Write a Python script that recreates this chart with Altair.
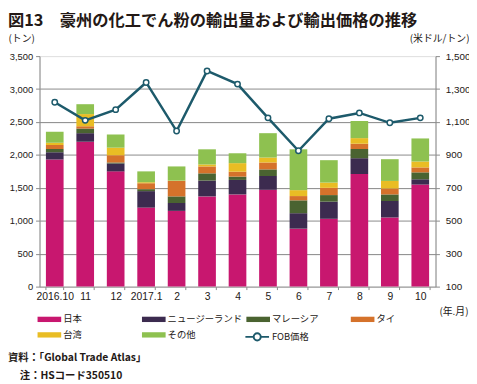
import altair as alt
import pandas as pd

# ---- data ----
months = ["2016.10", "11", "12", "2017.1", "2", "3", "4", "5", "6", "7", "8", "9", "10"]
series_names = ["日本", "ニュージーランド", "マレーシア", "タイ", "台湾", "その他"]
series_colors = ["#c8176f", "#3c2b4f", "#4a6331", "#d5722b", "#e9bd24", "#8ec150"]
japan = [1930, 2200, 1750, 1200, 1150, 1370, 1400, 1470, 880, 1030, 1710, 1050, 1550]
nz = [110, 130, 120, 250, 120, 240, 220, 210, 235, 260, 240, 250, 80]
malaysia = [50, 70, 15, 30, 100, 110, 50, 100, 195, 100, 140, 100, 105]
thai = [60, 35, 110, 90, 235, 105, 75, 105, 65, 110, 80, 90, 75]
taiwan = [35, 185, 115, 15, 5, 30, 130, 75, 90, 80, 85, 115, 90]
other = [165, 150, 200, 165, 215, 230, 150, 370, 620, 340, 260, 330, 350]
fob = [1220, 1110, 1175, 1340, 1045, 1410, 1330, 1125, 925, 1120, 1155, 1095, 1125]
left_ticks = [0, 500, 1000, 1500, 2000, 2500, 3000, 3500]
right_ticks = [100, 300, 500, 700, 900, 1100, 1300, 1500]

title_text = "図13　豪州の化工でん粉の輸出量および輸出価格の推移"
note1 = "資料：「Global Trade Atlas」"
note2 = "注：HSコード350510"

rows = []
for i, (name, vals) in enumerate(zip(series_names, [japan, nz, malaysia, thai, taiwan, other])):
    for m, v in zip(months, vals):
        rows.append({"month": m, "series": name, "value": v, "ord": i})
bars_df = pd.DataFrame(rows)
line_df = pd.DataFrame({"month": months, "fob": fob, "s": ["FOB価格"] * len(months)})

FONT = "Noto Sans CJK JP"
NUMFONT = "Liberation Sans"
INK = "#231815"
AXC = "#8a8a8a"
LINEC = "#1d5a6b"

x_enc = alt.X(
    "month:N", sort=months,
    scale=alt.Scale(paddingInner=0.42, paddingOuter=0.21),
    axis=alt.Axis(
        title="(年.月)", titleX=435, titleY=25, titleAlign="right", titleBaseline="middle",
        titleAngle=0, titleFont=FONT, titleFontSize=10, titleFontWeight="normal", titleColor=INK,
        labelAngle=0, labelFont=NUMFONT, labelFontSize=10.5, labelColor=INK, labelPadding=2,
        tickSize=3, tickBand="extent", tickColor=AXC, domainColor=AXC, grid=False,
    ),
)

bars = alt.Chart(bars_df).mark_bar().encode(
    x=x_enc,
    y=alt.Y(
        "value:Q", stack="zero",
        scale=alt.Scale(domain=[0, 3500], nice=False),
        axis=alt.Axis(
            values=left_ticks, format=",.0f",
            title="(トン)", titleAngle=0, titleX=-32, titleY=-18, titleAlign="left",
            titleBaseline="middle", titleFont=FONT, titleFontSize=10, titleFontWeight="normal",
            titleColor=INK,
            labelFont=NUMFONT, labelFontSize=9.5, labelColor=INK, labelPadding=3,
            tickSize=4, tickColor=AXC, domainColor=AXC,
            grid=True,
            gridColor=alt.condition("datum.value % 1000 === 0", alt.value("#bdbdbd"), alt.value("#858585")),
            gridWidth=alt.condition("datum.value % 1000 === 0", alt.value(1.6), alt.value(1)),
            gridOpacity=alt.condition("datum.value === 3500 || datum.value === 0", alt.value(0), alt.value(1)),
        ),
    ),
    color=alt.Color(
        "series:N",
        scale=alt.Scale(domain=series_names, range=series_colors),
        legend=alt.Legend(
            title=None, orient="none", legendX=-2, legendY=261, direction="horizontal",
            columns=4, gridAlign="all", columnPadding=3, rowPadding=5, padding=0,
            symbolType="M-1,-0.45H3V0.45H-1Z", symbolSize=144, symbolStrokeWidth=0,
            symbolOpacity=1, labelOffset=14, labelFont=FONT, labelFontSize=9.5, labelColor=INK,
        ),
    ),
    order=alt.Order("ord:Q", sort="ascending"),
)

line = alt.Chart(line_df).mark_line(
    strokeWidth=2.5,
    point=alt.OverlayMarkDef(filled=True, fill="white", size=30, strokeWidth=1.5),
).encode(
    x=x_enc,
    y=alt.Y(
        "fob:Q",
        scale=alt.Scale(domain=[100, 1500], nice=False),
        axis=alt.Axis(
            orient="right", values=right_ticks, format=",.0f",
            title="(米ドル/トン)", titleAngle=0, titleX=34, titleY=-18, titleAlign="right",
            titleBaseline="middle", titleFont=FONT, titleFontSize=10, titleFontWeight="normal",
            titleColor=INK,
            labelFont=NUMFONT, labelFontSize=10, labelColor=INK, labelPadding=6,
            tickSize=4, tickColor=AXC, domainColor=AXC, grid=False,
        ),
    ),
    stroke=alt.Stroke(
        "s:N",
        scale=alt.Scale(domain=["FOB価格"], range=[LINEC]),
        legend=alt.Legend(
            title=None, orient="none", legendX=208, legendY=278, padding=0,
            symbolType="M-1,0H0.4M1.6,0H3M0.4,0A0.6,0.6 0 1,0 1.6,0A0.6,0.6 0 1,0 0.4,0Z",
            symbolSize=144, symbolStrokeWidth=2, symbolFillColor="white",
            symbolStrokeColor=LINEC, labelOffset=14,
            labelFont=FONT, labelFontSize=9.5, labelColor=INK,
        ),
    ),
)

title_layer = alt.Chart(pd.DataFrame({"t": [title_text]})).mark_text(
    align="left", baseline="middle", font=FONT, fontSize=16.5, fontWeight="bold", color=INK
).encode(text="t:N", x=alt.value(-32), y=alt.value(-36))

note1_layer = alt.Chart(pd.DataFrame({"t": [note1]})).mark_text(
    align="left", baseline="middle", font=FONT, fontSize=10.5, fontWeight="bold", color=INK
).encode(text="t:N", x=alt.value(-32), y=alt.value(307))

note2_layer = alt.Chart(pd.DataFrame({"t": [note2]})).mark_text(
    align="left", baseline="middle", font=FONT, fontSize=10.5, fontWeight="bold", color=INK
).encode(text="t:N", x=alt.value(-20), y=alt.value(325))

chart = alt.layer(bars, line, title_layer, note1_layer, note2_layer).resolve_scale(
    y="independent"
).properties(
    width=402, height=234,
    autosize=alt.AutoSizeParams(type="none"),
    padding={"left": 32, "top": 46, "right": 34, "bottom": 96},
).configure_view(stroke=None).configure(background="white")

chart.save("out.html", embed_options={"renderer": "svg", "actions": False})
